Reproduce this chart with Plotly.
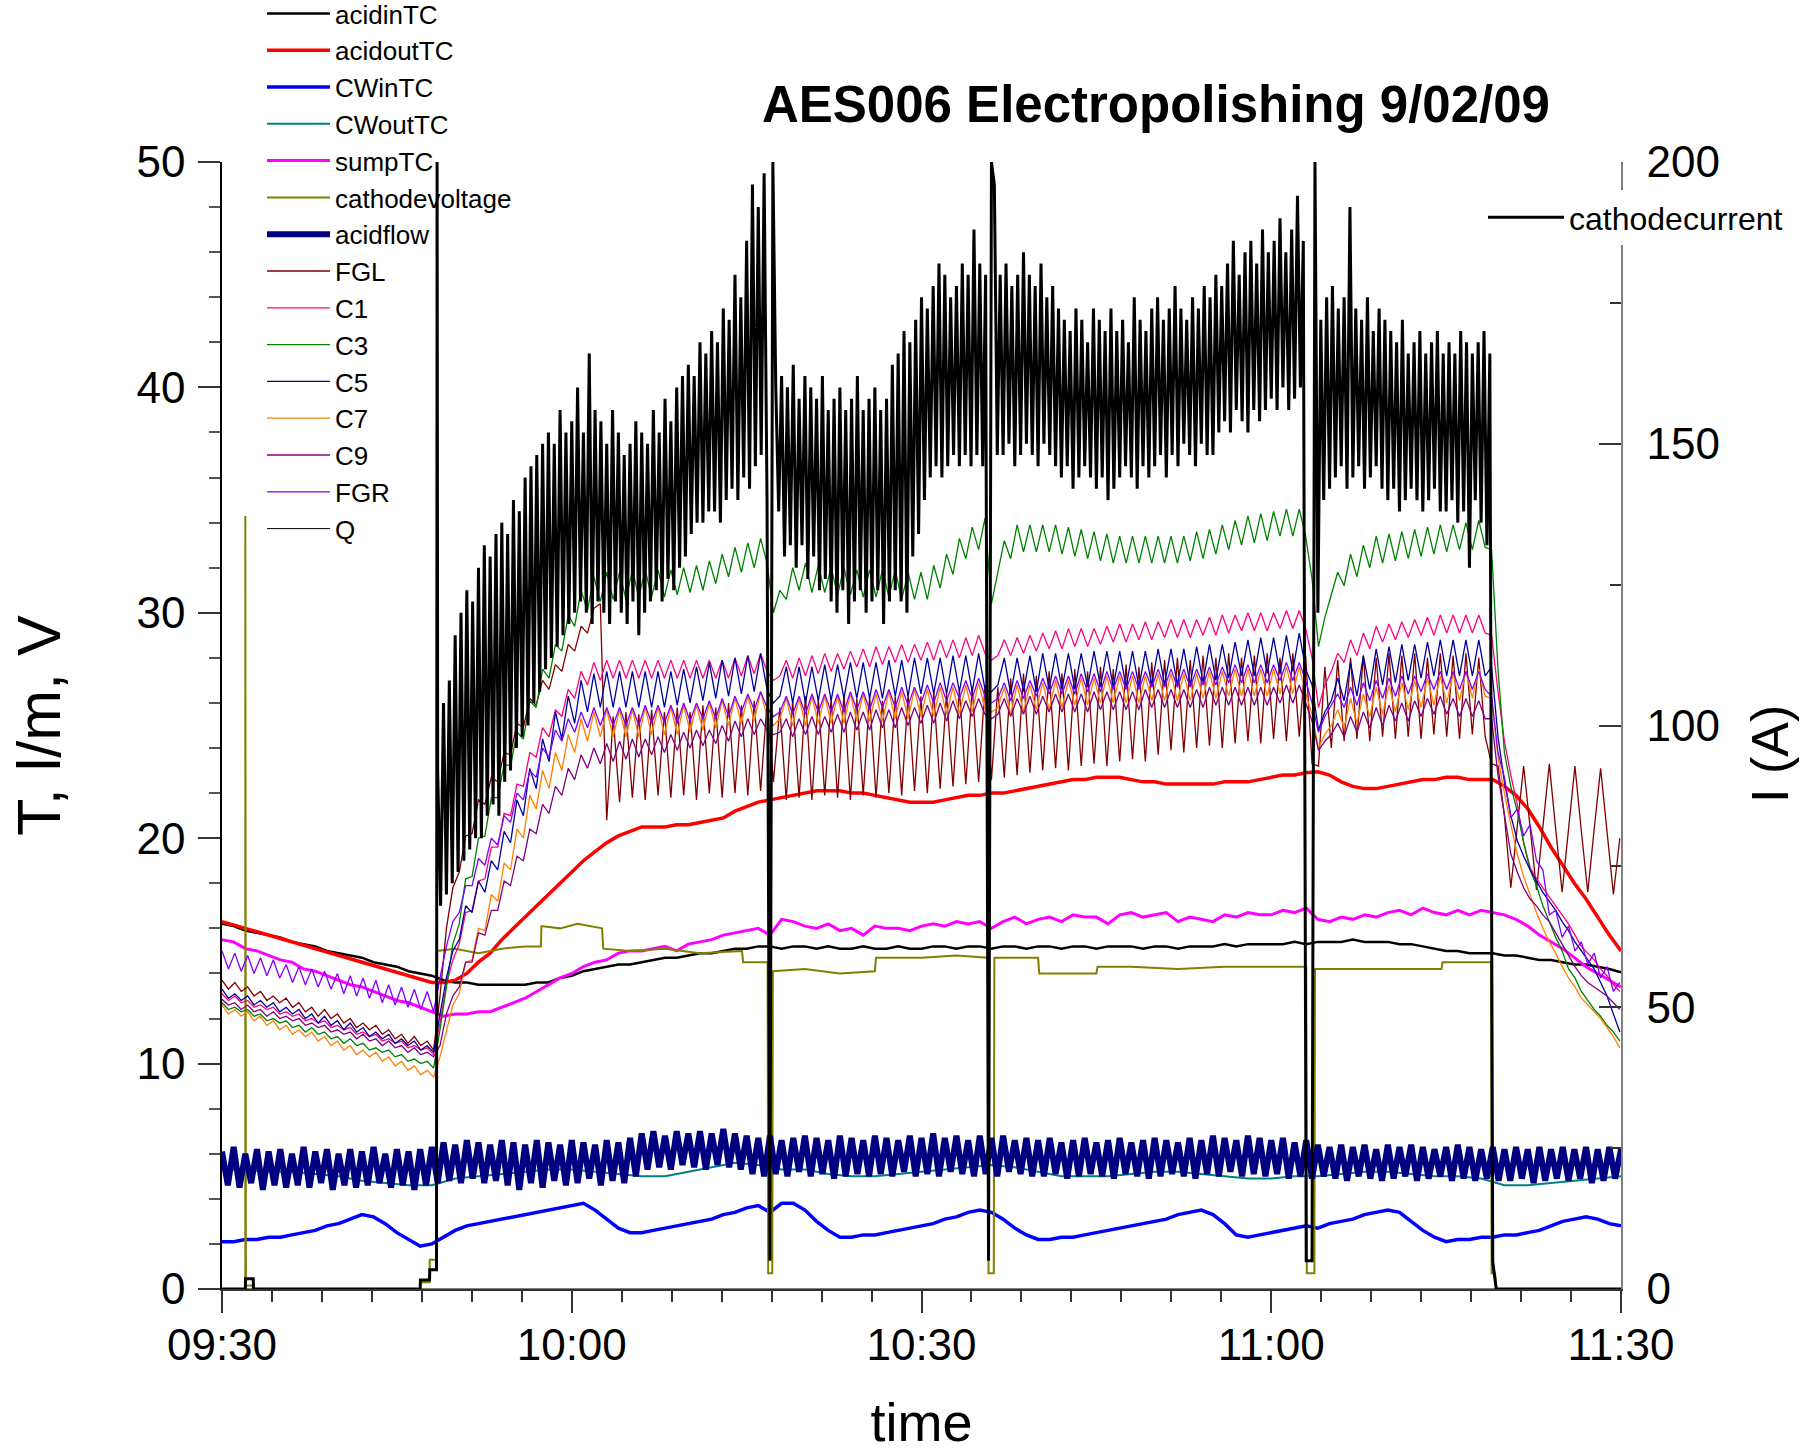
import numpy as np
import pandas as pd
import plotly.graph_objects as go

BASE = pd.Timestamp("2009-09-02 09:30:00")

# ---------------- time grids (minutes after 09:30) ----------------
t_osc = np.round(np.arange(219) * 0.55, 2)      # thermocouple channels C*, FGL, FGR
t_min = np.arange(121)                           # 1-minute channels
t_2min = np.arange(0, 121, 2)                    # CWoutTC
t_flow = np.arange(241) * 0.5                    # acidflow

# ---------------- left axis channels ----------------
acidinTC = [16.2, 16.1, 15.9, 15.8, 15.7, 15.6, 15.4, 15.3, 15.2, 15.0,
            14.9, 14.8, 14.7, 14.5, 14.4, 14.3, 14.1, 14.0, 13.9, 13.7,
            13.6, 13.6, 13.5, 13.5, 13.5, 13.5, 13.5, 13.6, 13.6, 13.8,
            13.9, 14.1, 14.2, 14.3, 14.4, 14.4, 14.5, 14.6, 14.7, 14.7,
            14.8, 14.9, 14.9, 15.0, 15.1, 15.1, 15.2, 15.2, 15.1, 15.2,
            15.2, 15.1, 15.2, 15.1, 15.1, 15.2, 15.1, 15.1, 15.2, 15.1,
            15.1, 15.2, 15.2, 15.1, 15.2, 15.2, 15.1, 15.2, 15.2, 15.1,
            15.2, 15.2, 15.1, 15.2, 15.2, 15.1, 15.2, 15.2, 15.2, 15.1,
            15.2, 15.2, 15.1, 15.2, 15.2, 15.2, 15.3, 15.2, 15.3, 15.3,
            15.3, 15.3, 15.4, 15.3, 15.4, 15.4, 15.4, 15.5, 15.4, 15.4,
            15.4, 15.3, 15.3, 15.2, 15.1, 15.0, 15.0, 14.9, 14.9, 14.9,
            14.8, 14.8, 14.7, 14.6, 14.6, 14.5, 14.4, 14.4, 14.3, 14.2,
            14.05]

acidoutTC = [16.3, 16.15, 16.0, 15.85, 15.7, 15.55, 15.4, 15.25, 15.1, 14.95,
             14.8, 14.65, 14.5, 14.35, 14.2, 14.05, 13.9, 13.75, 13.6, 13.6,
             13.7, 14.0, 14.5, 14.9, 15.5, 16.0, 16.5, 17.0, 17.5, 18.0,
             18.5, 19.0, 19.4, 19.8, 20.1, 20.3, 20.5, 20.5, 20.5, 20.6,
             20.6, 20.7, 20.8, 20.9, 21.2, 21.4, 21.6, 21.7, 21.8, 21.9,
             22.0, 22.1, 22.1, 22.1, 22.0, 22.0, 21.9, 21.8, 21.7, 21.6,
             21.6, 21.6, 21.7, 21.8, 21.9, 21.9, 22.0, 22.0, 22.1, 22.2,
             22.3, 22.4, 22.5, 22.6, 22.6, 22.7, 22.7, 22.7, 22.6, 22.5,
             22.5, 22.4, 22.4, 22.4, 22.4, 22.4, 22.5, 22.5, 22.5, 22.6,
             22.7, 22.8, 22.8, 22.9, 22.95, 22.8, 22.5, 22.3, 22.2, 22.2,
             22.3, 22.4, 22.5, 22.6, 22.6, 22.7, 22.7, 22.6, 22.6, 22.6,
             22.3, 21.9, 21.3, 20.5, 19.6, 18.8, 18.0, 17.3, 16.5, 15.7,
             15.0]

CWinTC = [2.1, 2.1, 2.2, 2.2, 2.3, 2.3, 2.4, 2.5, 2.6, 2.8,
          2.9, 3.1, 3.3, 3.2, 2.9, 2.5, 2.2, 1.9, 2.0, 2.3,
          2.6, 2.8, 2.9, 3.0, 3.1, 3.2, 3.3, 3.4, 3.5, 3.6,
          3.7, 3.8, 3.5, 3.1, 2.7, 2.5, 2.5, 2.6, 2.7, 2.8,
          2.9, 3.0, 3.1, 3.3, 3.4, 3.6, 3.7, 3.4, 3.8, 3.8,
          3.5, 3.0, 2.6, 2.3, 2.3, 2.4, 2.4, 2.5, 2.6, 2.7,
          2.8, 2.9, 3.1, 3.2, 3.4, 3.5, 3.4, 3.1, 2.7, 2.4,
          2.2, 2.2, 2.3, 2.3, 2.4, 2.5, 2.6, 2.7, 2.8, 2.9,
          3.0, 3.1, 3.3, 3.4, 3.5, 3.3, 2.9, 2.4, 2.3, 2.4,
          2.5, 2.6, 2.7, 2.8, 2.7, 2.9, 3.0, 3.1, 3.3, 3.4,
          3.5, 3.4, 3.0, 2.6, 2.3, 2.1, 2.2, 2.2, 2.3, 2.3,
          2.4, 2.4, 2.5, 2.6, 2.8, 3.0, 3.1, 3.2, 3.1, 2.9,
          2.8]

CWoutTC = [5.3, 5.3, 5.2, 5.2, 5.1, 5.0, 4.8, 4.7, 4.6, 4.6,
           4.9, 5.0, 5.1, 5.2, 5.3, 5.3, 5.2, 5.1, 5.0, 5.0,
           5.2, 5.4, 5.6, 5.5, 5.3, 5.3, 5.1, 5.0, 5.0, 5.1,
           5.2, 5.3, 5.4, 5.5, 5.4, 5.2, 5.0, 5.0, 5.0, 5.1,
           5.2, 5.2, 5.1, 5.0, 4.9, 4.9, 5.0, 5.0, 5.1, 5.2,
           5.2, 5.1, 5.0, 5.0, 4.9, 4.6, 4.6, 4.7, 4.8, 4.9,
           5.0]

sumpTC = [15.5, 15.4, 15.1, 15.0, 14.8, 14.6, 14.5, 14.2, 14.1, 13.9,
          13.7, 13.5, 13.4, 13.2, 13.0, 12.8, 12.7, 12.5, 12.3, 12.1,
          12.2, 12.2, 12.3, 12.3, 12.5, 12.7, 12.9, 13.2, 13.5, 13.8,
          14.0, 14.3, 14.5, 14.6, 14.9, 15.0, 15.0, 15.1, 15.2, 15.0,
          15.3, 15.4, 15.5, 15.7, 15.8, 15.9, 16.0, 15.7, 16.4, 16.3,
          16.1, 16.0, 16.2, 15.9, 16.0, 15.7, 16.1, 16.0, 16.0, 15.9,
          16.1, 16.2, 16.1, 16.3, 16.2, 16.3, 16.0, 16.3, 16.5, 16.2,
          16.4, 16.5, 16.3, 16.6, 16.5, 16.5, 16.2, 16.6, 16.7, 16.5,
          16.6, 16.7, 16.3, 16.5, 16.4, 16.3, 16.6, 16.5, 16.7, 16.6,
          16.6, 16.8, 16.7, 16.9, 16.4, 16.3, 16.5, 16.4, 16.6, 16.5,
          16.7, 16.8, 16.6, 16.9, 16.7, 16.6, 16.8, 16.6, 16.8, 16.7,
          16.6, 16.4, 16.1, 15.7, 15.4, 15.1, 14.7, 14.3, 14.0, 13.7,
          13.4]

volt_t = [0, 2.0, 2.0, 2.02, 2.05, 2.7, 2.72, 17.0, 17.02, 17.8, 17.82, 18.4, 18.45,
          20, 22, 24, 26, 27.35, 27.4, 29, 30.5, 32.6, 32.7, 35, 38, 41, 44.6, 44.7,
          46.8, 46.85, 47.2, 47.25, 50, 53, 56, 56.1, 60, 63, 65.7, 65.75,
          66.2, 66.25, 68, 70, 70.1, 73, 75, 75.1, 78, 82, 86, 90,
          93.0, 93.05, 93.7, 93.75, 96, 100, 104.6, 104.7,
          106.5, 108.85, 108.9, 109.2, 109.3, 120]
cathodevoltage = [0, 0, 34.3, 0.15, 0.15, 0.15, 0, 0, 0.3, 0.3, 1.3, 1.3, 15.0,
                  15.1, 14.9, 15.1, 15.2, 15.2, 16.1, 16.0, 16.2, 16.0, 15.1, 15.0, 15.1, 14.9, 15.0, 14.5,
                  14.5, 0.7, 0.7, 14.1, 14.2, 14.0, 14.1, 14.7, 14.7, 14.8, 14.7, 0.7,
                  0.7, 14.7, 14.7, 14.7, 14.0, 14.0, 14.0, 14.3, 14.3, 14.2, 14.3, 14.3,
                  14.3, 0.7, 0.7, 14.2, 14.2, 14.2, 14.2, 14.5,
                  14.5, 14.5, 0.7, 0.7, 0, 0]

acidflow = [6.1, 4.6, 6.3, 4.5, 6.0, 4.7, 6.2, 4.4, 6.1, 4.6,
            6.2, 4.5, 6.0, 4.6, 6.3, 4.5, 6.1, 4.7, 6.2, 4.4,
            6.0, 4.6, 6.2, 4.5, 6.1, 4.6, 6.3, 4.7, 6.0, 4.5,
            6.2, 4.6, 6.1, 4.4, 6.2, 4.6, 6.3, 4.7, 6.5, 4.8,
            6.4, 4.7, 6.6, 4.9, 6.5, 4.7, 6.4, 4.8, 6.6, 4.6,
            6.5, 4.4, 6.4, 4.7, 6.6, 4.5, 6.5, 4.8, 6.4, 4.6,
            6.6, 4.7, 6.5, 4.9, 6.4, 4.6, 6.6, 4.8, 6.5, 4.7,
            6.7, 5.0, 6.9, 5.3, 7.0, 5.4, 6.8, 5.3, 7.0, 5.5,
            6.9, 5.4, 7.0, 5.3, 6.9, 5.5, 7.1, 5.4, 6.9, 5.3,
            6.8, 5.1, 6.7, 5.0, 6.8, 5.1, 6.6, 5.0, 6.7, 5.2,
            6.8, 5.0, 6.7, 5.1, 6.6, 4.9, 6.8, 5.0, 6.7, 5.1,
            6.6, 5.0, 6.8, 5.1, 6.7, 5.0, 6.6, 5.2, 6.8, 5.0,
            6.7, 5.1, 6.9, 5.0, 6.7, 5.2, 6.8, 5.1, 6.6, 5.0,
            6.8, 5.1, 6.7, 5.0, 6.8, 5.2, 6.6, 5.1, 6.7, 5.0,
            6.6, 5.0, 6.7, 5.1, 6.5, 4.9, 6.6, 5.0, 6.7, 5.1,
            6.5, 5.0, 6.6, 4.9, 6.7, 5.1, 6.5, 5.0, 6.6, 4.9,
            6.7, 5.0, 6.6, 5.1, 6.5, 5.0, 6.7, 4.9, 6.6, 5.1,
            6.8, 5.0, 6.7, 5.2, 6.6, 5.0, 6.8, 5.1, 6.7, 5.0,
            6.6, 5.1, 6.7, 4.9, 6.5, 5.0, 6.6, 4.9, 6.4, 5.0,
            6.3, 4.9, 6.4, 4.8, 6.3, 5.0, 6.4, 4.9, 6.2, 4.8,
            6.4, 4.9, 6.3, 5.0, 6.4, 4.8, 6.3, 4.9, 6.2, 5.0,
            6.3, 4.8, 6.4, 4.9, 6.3, 4.8, 6.2, 4.9, 6.3, 4.8,
            6.2, 4.8, 6.3, 4.9, 6.2, 4.7, 6.3, 4.8, 6.2, 4.9,
            6.3, 4.8, 6.2, 4.9, 6.3, 4.7, 6.2, 4.8, 6.3, 4.9,
            6.2]

FGL = [13.7, 13.3, 13.6, 13.2, 13.4, 13.0, 13.2, 12.8, 13.0, 12.7,
       12.9, 12.5, 12.7, 12.3, 12.5, 12.1, 12.4, 12.0, 12.2, 11.8,
       12.0, 11.6, 11.8, 11.5, 11.7, 11.3, 11.5, 11.1, 11.3, 10.9,
       11.2, 10.8, 11.0, 10.6, 13.0, 16.0, 17.8, 18.5, 20.1, 20.2,
       21.7, 21.5, 22.7, 22.5, 23.8, 23.7, 25.1, 24.9, 26.2, 25.9,
       27.0, 26.6, 27.7, 27.4, 28.6, 28.3, 29.4, 29.1, 30.2, 30.4,
       20.8, 25.4, 21.6, 25.6, 21.8, 25.5, 21.7, 25.7, 21.9, 25.6,
       21.8, 25.8, 21.9, 25.6, 21.7, 25.9, 22.0, 25.8, 21.8, 26.0,
       22.0, 25.9, 21.9, 26.1, 22.1, 26.0, 22.5, 25.8, 21.7, 26.1,
       21.8, 26.3, 21.7, 26.2, 21.9, 26.2, 21.8, 26.4, 21.7, 26.2,
       21.9, 26.3, 21.8, 26.1, 22.0, 26.3, 21.9, 26.4, 22.1, 26.3,
       22.0, 26.5, 22.2, 26.4, 22.3, 26.6, 22.4, 26.7, 22.5, 26.8,
       22.6, 26.7, 22.7, 27.1, 22.8, 27.3, 22.9, 27.2, 23.0, 27.4,
       23.1, 27.3, 23.0, 27.5, 23.2, 27.4, 23.3, 27.6, 23.2, 27.5,
       23.4, 27.7, 23.5, 27.6, 23.4, 27.8, 23.7, 27.9, 23.9, 28.0,
       23.8, 27.9, 24.0, 28.1, 24.1, 28.0, 24.0, 28.2, 24.2, 28.0,
       24.3, 28.1, 24.2, 28.2, 24.4, 28.0, 24.3, 28.2, 24.5, 28.1,
       23.3, 23.2, 27.6, 24.0, 27.9, 24.3, 28.0, 24.4, 28.1, 24.3,
       28.0, 24.5, 28.2, 24.4, 28.1, 24.5, 28.2, 24.4, 28.0, 24.6,
       28.2, 24.5, 28.1, 24.4, 28.2, 24.6, 28.0, 24.5, 23.3, 23.2,
       21.0, 17.8, 20.5, 23.2, 20.5, 17.7, 20.5, 23.3, 20.4, 17.6,
       20.4, 23.2, 20.3, 17.6, 20.4, 23.1, 20.3, 17.5, 20.0]

C1 = [13.1, 12.8, 13.0, 12.7, 12.8, 12.5, 12.6, 12.4, 12.5, 12.2,
      12.3, 12.1, 12.2, 11.9, 12.0, 11.8, 11.9, 11.6, 11.7, 11.5,
      11.6, 11.3, 11.4, 11.2, 11.3, 11.0, 11.1, 10.9, 11.0, 10.7,
      10.8, 10.6, 10.7, 10.4, 11.8, 13.5, 14.6, 15.3, 16.7, 16.8,
      18.1, 18.2, 19.6, 19.6, 21.1, 21.0, 22.4, 22.3, 23.8, 23.6,
      24.9, 24.5, 25.7, 25.4, 26.6, 26.2, 27.4, 26.8, 27.8, 27.0,
      27.9, 27.1, 27.9, 27.1, 27.9, 27.1, 27.9, 27.1, 27.9, 27.1,
      27.9, 27.1, 27.9, 27.1, 27.9, 27.1, 27.9, 27.1, 27.9, 27.1,
      28.0, 27.2, 28.1, 27.3, 28.2, 27.4, 27.0, 27.2, 27.9, 27.1,
      28.0, 27.2, 28.1, 27.3, 28.2, 27.4, 28.2, 27.5, 28.3, 27.6,
      28.4, 27.6, 28.5, 27.7, 28.5, 27.8, 28.6, 27.8, 28.6, 27.9,
      28.7, 27.9, 28.8, 28.0, 28.8, 28.0, 28.9, 28.1, 29.0, 28.2,
      27.9, 28.1, 28.8, 28.1, 28.9, 28.2, 29.0, 28.3, 29.1, 28.4,
      29.2, 28.4, 29.3, 28.5, 29.3, 28.5, 29.3, 28.6, 29.4, 28.7,
      29.5, 28.7, 29.5, 28.8, 29.6, 28.8, 29.6, 28.9, 29.7, 28.9,
      29.7, 28.9, 29.7, 29.0, 29.8, 29.0, 29.9, 29.1, 29.9, 29.2,
      30.0, 29.2, 30.0, 29.2, 30.0, 29.3, 30.1, 29.3, 30.1, 29.3,
      28.0, 25.8, 26.8, 27.4, 28.2, 27.8, 28.8, 28.1, 29.1, 28.4,
      29.4, 28.7, 29.5, 28.8, 29.6, 28.9, 29.7, 29.0, 29.8, 29.0,
      29.9, 29.1, 29.9, 29.1, 29.9, 29.1, 29.9, 29.1, 29.0, 26.5,
      24.3, 22.8, 21.5, 19.8, 18.7, 18.2, 17.8, 17.4, 17.0, 16.6,
      16.2, 15.7, 15.2, 14.9, 14.6, 14.2, 13.9, 13.5, 13.2]

C3 = [12.7, 12.4, 12.5, 12.3, 12.4, 12.1, 12.2, 11.9, 12.0, 11.8,
      11.9, 11.6, 11.7, 11.4, 11.6, 11.3, 11.4, 11.1, 11.2, 10.9,
      11.1, 10.8, 10.9, 10.6, 10.7, 10.5, 10.6, 10.3, 10.4, 10.1,
      10.2, 10.0, 10.1, 9.8, 11.5, 13.5, 15.3, 16.2, 18.2, 18.3,
      20.0, 20.1, 21.8, 21.8, 23.3, 23.2, 24.7, 24.4, 26.1, 25.8,
      27.5, 27.1, 28.6, 28.3, 29.9, 29.4, 31.0, 30.1, 31.6, 30.5,
      31.8, 30.6, 31.8, 30.6, 31.9, 30.7, 31.9, 30.7, 31.9, 30.7,
      31.9, 30.8, 32.0, 30.9, 32.1, 31.0, 32.3, 31.3, 32.6, 31.6,
      32.9, 31.8, 33.1, 32.0, 33.3, 32.2, 30.0, 31.0, 30.6, 32.0,
      31.0, 32.2, 30.9, 32.1, 30.9, 32.0, 30.8, 32.0, 30.8, 31.9,
      30.7, 31.9, 30.7, 31.9, 30.7, 31.9, 30.6, 31.8, 30.6, 31.8,
      30.6, 32.1, 31.1, 32.6, 31.7, 33.3, 32.4, 33.8, 32.8, 34.2,
      30.4, 31.8, 33.2, 32.4, 33.9, 32.7, 33.9, 32.7, 33.9, 32.7,
      33.9, 32.6, 33.8, 32.5, 33.7, 32.4, 33.6, 32.3, 33.5, 32.2,
      33.4, 32.2, 33.4, 32.2, 33.4, 32.2, 33.4, 32.2, 33.4, 32.2,
      33.4, 32.3, 33.6, 32.4, 33.7, 32.6, 33.9, 32.8, 34.1, 33.0,
      34.3, 33.1, 34.4, 33.2, 34.5, 33.4, 34.6, 33.4, 34.6, 33.4,
      31.5, 28.5, 29.8, 30.8, 31.8, 31.2, 32.6, 31.6, 33.0, 32.0,
      33.4, 32.2, 33.5, 32.3, 33.6, 32.4, 33.7, 32.5, 33.8, 32.6,
      33.9, 32.7, 33.9, 32.8, 34.0, 32.8, 34.1, 32.9, 32.8, 27.5,
      23.8, 22.3, 21.2, 19.8, 18.6, 17.9, 17.0, 16.3, 15.6, 15.0,
      14.2, 13.8, 13.2, 12.8, 12.4, 12.1, 11.7, 11.4, 11.0]

C5 = [13.3, 12.9, 13.1, 12.8, 13.0, 12.6, 12.8, 12.5, 12.7, 12.3,
      12.5, 12.2, 12.4, 12.0, 12.2, 11.8, 12.1, 11.7, 11.9, 11.5,
      11.8, 11.4, 11.6, 11.2, 11.4, 11.1, 11.3, 10.9, 11.1, 10.8,
      11.0, 10.6, 10.8, 10.5, 12.2, 13.8, 15.0, 15.5, 17.0, 16.7,
      18.1, 17.6, 19.0, 18.6, 20.3, 19.8, 21.7, 21.0, 23.1, 22.2,
      24.4, 23.4, 25.6, 24.4, 26.3, 25.1, 27.0, 25.6, 27.3, 25.8,
      27.4, 25.8, 27.4, 25.8, 27.4, 25.8, 27.4, 25.8, 27.4, 25.8,
      27.4, 25.9, 27.5, 26.0, 27.6, 26.1, 27.8, 26.2, 27.9, 26.3,
      28.0, 26.4, 28.1, 26.5, 28.2, 26.6, 26.0, 26.3, 27.6, 26.0,
      27.6, 26.0, 27.6, 26.1, 27.7, 26.1, 27.7, 26.2, 27.8, 26.2,
      27.8, 26.2, 27.8, 26.2, 27.9, 26.3, 27.9, 26.3, 28.0, 26.4,
      28.0, 26.4, 28.0, 26.4, 28.1, 26.5, 28.1, 26.5, 28.2, 26.6,
      26.5, 26.8, 28.0, 26.4, 28.0, 26.5, 28.1, 26.5, 28.2, 26.6,
      28.2, 26.6, 28.2, 26.6, 28.2, 26.7, 28.3, 26.7, 28.3, 26.7,
      28.3, 26.7, 28.3, 26.7, 28.3, 26.8, 28.4, 26.8, 28.4, 26.8,
      28.4, 26.8, 28.5, 26.9, 28.6, 27.0, 28.6, 27.1, 28.7, 27.2,
      28.8, 27.2, 28.9, 27.3, 28.9, 27.3, 29.0, 27.4, 29.1, 27.5,
      26.8, 24.8, 25.6, 26.1, 27.1, 26.1, 27.8, 26.3, 28.1, 26.6,
      28.4, 26.8, 28.5, 26.9, 28.6, 27.0, 28.6, 27.1, 28.7, 27.2,
      28.8, 27.2, 28.8, 27.2, 28.8, 27.2, 28.8, 27.2, 27.6, 24.5,
      22.5, 21.0, 19.9, 19.2, 18.6, 18.1, 17.6, 17.2, 16.8, 16.3,
      15.9, 15.4, 15.0, 14.6, 14.2, 13.6, 13.0, 12.2, 11.4]

C7 = [12.6, 12.2, 12.4, 12.1, 12.3, 11.9, 12.1, 11.7, 11.9, 11.5,
      11.7, 11.3, 11.5, 11.2, 11.4, 11.0, 11.2, 10.8, 11.0, 10.6,
      10.8, 10.4, 10.6, 10.3, 10.5, 10.1, 10.3, 9.9, 10.1, 9.7,
      9.9, 9.5, 9.7, 9.4, 10.3, 11.5, 12.6, 13.1, 14.5, 14.6,
      16.0, 15.9, 17.5, 17.2, 18.9, 18.6, 20.4, 20.0, 21.9, 21.3,
      23.0, 22.2, 23.8, 23.0, 24.6, 23.8, 25.3, 24.3, 25.6, 24.5,
      25.7, 24.5, 25.7, 24.5, 25.7, 24.5, 25.8, 24.6, 25.8, 24.6,
      25.8, 24.6, 25.9, 24.7, 25.9, 24.8, 26.0, 24.9, 26.1, 25.0,
      26.2, 25.1, 26.3, 25.2, 26.5, 25.4, 25.0, 25.3, 26.2, 25.0,
      26.2, 25.0, 26.3, 25.1, 26.3, 25.1, 26.3, 25.1, 26.4, 25.2,
      26.4, 25.2, 26.4, 25.2, 26.5, 25.3, 26.5, 25.3, 26.6, 25.4,
      26.6, 25.4, 26.7, 25.5, 26.7, 25.5, 26.8, 25.6, 26.9, 25.7,
      25.6, 25.8, 26.7, 25.5, 26.8, 25.6, 26.8, 25.7, 26.9, 25.7,
      27.0, 25.8, 27.0, 25.9, 27.1, 25.9, 27.1, 26.0, 27.2, 26.0,
      27.2, 26.0, 27.2, 26.0, 27.2, 26.1, 27.3, 26.1, 27.3, 26.1,
      27.3, 26.1, 27.3, 26.2, 27.4, 26.2, 27.4, 26.3, 27.5, 26.3,
      27.5, 26.3, 27.5, 26.3, 27.5, 26.4, 27.6, 26.4, 27.6, 26.4,
      25.5, 24.0, 24.6, 25.0, 25.7, 24.9, 26.2, 25.1, 26.4, 25.4,
      26.7, 25.5, 26.8, 25.6, 26.9, 25.7, 27.0, 25.8, 27.1, 25.9,
      27.2, 26.0, 27.3, 26.1, 27.4, 26.2, 27.5, 26.3, 26.2, 23.6,
      22.0, 20.6, 19.3, 18.3, 17.5, 16.7, 16.0, 15.4, 14.9, 14.3,
      13.8, 13.4, 12.9, 12.6, 12.3, 12.0, 11.6, 11.2, 10.7]

C9 = [12.85, 12.6, 12.7, 12.4, 12.6, 12.3, 12.4, 12.1, 12.3, 12.0,
      12.1, 11.9, 12.0, 11.7, 11.8, 11.6, 11.7, 11.4, 11.5, 11.3,
      11.4, 11.1, 11.3, 11.0, 11.1, 10.8, 11.0, 10.7, 10.8, 10.5,
      10.7, 10.4, 10.5, 10.3, 10.8, 12.2, 13.0, 13.4, 14.5, 14.5,
      15.8, 15.7, 16.8, 16.8, 18.1, 17.9, 19.2, 19.0, 20.4, 20.2,
      21.5, 21.1, 22.3, 21.9, 23.1, 22.6, 23.7, 23.1, 24.0, 23.3,
      24.2, 23.4, 24.3, 23.5, 24.4, 23.6, 24.4, 23.7, 24.5, 23.8,
      24.6, 23.9, 24.7, 24.0, 24.8, 24.1, 24.8, 24.2, 25.0, 24.3,
      25.2, 24.5, 25.3, 24.6, 25.3, 24.8, 24.6, 24.7, 25.3, 24.5,
      25.3, 24.6, 25.4, 24.6, 25.4, 24.7, 25.5, 24.7, 25.6, 24.8,
      25.6, 24.8, 25.7, 24.9, 25.7, 24.9, 25.8, 25.0, 25.8, 25.1,
      25.9, 25.1, 26.0, 25.2, 26.1, 25.3, 26.1, 25.4, 26.2, 25.5,
      25.3, 25.5, 26.2, 25.4, 26.2, 25.5, 26.3, 25.5, 26.3, 25.6,
      26.4, 25.6, 26.4, 25.6, 26.4, 25.6, 26.5, 25.7, 26.5, 25.7,
      26.5, 25.7, 26.5, 25.7, 26.6, 25.8, 26.6, 25.8, 26.6, 25.8,
      26.6, 25.8, 26.6, 25.8, 26.7, 25.9, 26.7, 25.9, 26.7, 25.9,
      26.7, 25.9, 26.7, 25.9, 26.7, 26.0, 26.8, 26.0, 26.8, 26.0,
      25.2, 23.9, 24.3, 24.6, 25.1, 24.5, 25.4, 24.7, 25.6, 24.9,
      25.8, 25.0, 25.9, 25.2, 26.0, 25.2, 26.1, 25.4, 26.2, 25.5,
      26.3, 25.5, 26.2, 25.4, 26.2, 25.4, 26.1, 25.3, 25.3, 22.8,
      21.0, 19.3, 18.5, 17.8, 17.3, 17.0, 16.6, 16.3, 15.8, 15.3,
      14.8, 14.3, 13.9, 13.6, 13.4, 13.2, 13.0, 12.7, 12.4]

FGR = [15.0, 14.2, 14.9, 14.1, 14.8, 14.0, 14.7, 13.9, 14.6, 13.8,
       14.4, 13.6, 14.3, 13.5, 14.2, 13.4, 14.1, 13.3, 14.0, 13.1,
       13.9, 13.0, 13.8, 12.9, 13.7, 12.7, 13.5, 12.6, 13.4, 12.5,
       13.3, 12.4, 13.2, 12.3, 13.8, 15.2, 16.3, 16.7, 17.9, 17.9,
       19.1, 18.8, 20.0, 19.7, 21.0, 20.7, 22.0, 21.7, 23.0, 22.7,
       24.0, 23.6, 24.8, 24.3, 25.3, 24.7, 25.6, 24.9, 25.8, 25.0,
       25.8, 25.0, 25.8, 25.0, 25.8, 25.0, 25.9, 25.1, 25.9, 25.1,
       25.9, 25.1, 26.0, 25.2, 26.0, 25.3, 26.1, 25.3, 26.2, 25.4,
       26.3, 25.6, 26.4, 25.7, 26.5, 25.8, 25.4, 25.6, 26.3, 25.5,
       26.3, 25.5, 26.4, 25.6, 26.4, 25.6, 26.4, 25.6, 26.5, 25.7,
       26.5, 25.7, 26.6, 25.8, 26.6, 25.8, 26.7, 25.9, 26.7, 26.0,
       26.8, 26.0, 26.9, 26.1, 26.9, 26.2, 27.0, 26.2, 27.1, 26.3,
       26.0, 26.2, 26.9, 26.1, 27.0, 26.2, 27.0, 26.3, 27.1, 26.4,
       27.2, 26.4, 27.2, 26.4, 27.3, 26.5, 27.3, 26.5, 27.4, 26.6,
       27.4, 26.6, 27.4, 26.6, 27.4, 26.7, 27.5, 26.7, 27.5, 26.7,
       27.5, 26.7, 27.5, 26.8, 27.6, 26.8, 27.6, 26.9, 27.7, 26.9,
       27.7, 26.9, 27.7, 26.9, 27.7, 27.0, 27.8, 27.0, 27.8, 27.0,
       26.0, 24.7, 25.4, 25.9, 26.4, 25.8, 26.7, 25.9, 26.9, 26.1,
       27.0, 26.2, 27.1, 26.3, 27.2, 26.4, 27.2, 26.5, 27.3, 26.6,
       27.4, 26.6, 27.4, 26.6, 27.4, 26.6, 27.4, 26.6, 26.3, 23.8,
       22.7, 20.9, 21.3, 20.1, 20.6, 19.0, 18.6, 16.6, 16.8, 15.6,
       16.1, 15.0, 15.4, 14.4, 14.9, 13.8, 14.3, 13.2, 13.6]

q_t = [0, 120]
Q = [0, 0]

# ---------------- right axis: cathode current (A) ----------------
cur_pre_t = [0, 2.0, 2.02, 2.68, 2.7, 17.0, 17.02, 17.8, 17.82, 18.4, 18.45]
cur_pre = [0, 0, 1.8, 1.8, 0, 0, 1.6, 1.6, 3.4, 3.4, 200]
cur_run_start = 18.5      # minutes, 0.25-min sampling
cur_run = [
    92, 68,
    104, 70, 108, 72,   116, 74, 120, 76,   124, 78, 122, 80,   128, 80, 132, 84,
    130, 86, 134, 84,   136, 90, 134, 92,   140, 96, 138, 98,   144, 100, 146, 104,
    148, 106, 150, 110, 152, 112, 150, 114, 156, 116, 152, 118, 154, 120, 160, 122,
    152, 120, 166, 118, 156, 122, 154, 120, 150, 118, 156, 122, 152, 120, 148, 118,
    150, 122, 154, 116, 152, 120, 150, 122, 156, 124, 152, 122, 158, 126, 154, 124,
    160, 128, 162, 130, 164, 134, 162, 136, 168, 136, 166, 138, 170, 138, 168, 136,
    174, 140, 172, 142, 180, 140, 176, 144, 186, 142, 196, 146, 192, 148, 198, 140,
    5, 200, 160, 138,
    162, 130, 160, 132, 164, 128, 158, 132, 162, 126, 160, 130, 158, 124, 162, 126,
    156, 122, 158, 120, 160, 124, 156, 118, 158, 122, 162, 124, 156, 120, 158, 122,
    160, 124, 156, 118, 158, 122, 164, 124, 166, 122, 170, 120, 168, 130, 172, 134,
    176, 140, 174, 144, 178, 146, 182, 144, 180, 146, 176, 148, 178, 146, 182, 148,
    180, 146, 188, 148,
    182, 146, 180, 5,
    200, 196, 148, 180,
    148, 182, 150, 178, 146, 180, 148, 184, 150, 180, 148, 178, 146, 182, 150, 176,
    148, 178, 146, 174, 144, 172, 146, 170, 142, 174, 144, 172, 146, 168, 144, 174,
    142, 172, 144, 170, 140, 174, 142, 170, 144, 172, 146, 168, 144, 176, 142, 172,
    146, 170, 144, 174, 146, 176, 148, 172, 144, 174, 148, 178, 146, 174, 150, 172,
    148, 176, 146, 174, 150, 178, 148, 176, 148, 180, 152, 178, 154, 182, 152, 186,
    156, 180, 154, 184, 152, 186, 156, 182, 154, 188, 156, 184, 158, 186, 156, 190,
    160, 184, 156, 188,
    158, 194, 160, 186,
    5, 5, 5, 200,
    120, 172, 140, 176, 142, 178, 144, 174, 146, 176, 142, 192, 144, 174, 146, 172,
    142, 176, 144, 170, 146, 174, 142, 172, 140, 170, 142, 168, 138, 172, 140, 166,
    142, 168, 140, 170, 138, 166, 140, 168, 142, 170, 138, 166, 138, 168, 140, 166,
    136, 170, 138, 168, 128, 166, 140, 168,
    136, 170, 132, 166,
]
cur_post_t = [109.0, 109.3, 120]
cur_post = [4.8, 0, 0]


def tx(minutes):
    return BASE + pd.to_timedelta(np.asarray(minutes, dtype=float), unit="min")


cur_t = (list(cur_pre_t)
         + list(cur_run_start + 0.25 * np.arange(len(cur_run)))
         + list(cur_post_t))
cur_v = list(cur_pre) + list(cur_run) + list(cur_post)

FONT = "Liberation Sans, Arial, sans-serif"

fig = go.Figure()

left_series = [
    ("acidinTC", t_min, acidinTC, "#000000", 2.5),
    ("acidoutTC", t_min, acidoutTC, "#FF0000", 3.5),
    ("CWinTC", t_min, CWinTC, "#0000FF", 3.5),
    ("CWoutTC", t_2min, CWoutTC, "#008080", 2.0),
    ("sumpTC", t_min, sumpTC, "#FF00FF", 3.0),
    ("cathodevoltage", volt_t, cathodevoltage, "#808000", 2.0),
    ("acidflow", t_flow, acidflow, "#000080", 6.0),
    ("FGL", t_osc, FGL, "#800000", 1.3),
    ("C1", t_osc, C1, "#FF0080", 1.3),
    ("C3", t_osc, C3, "#008000", 1.3),
    ("C5", t_osc, C5, "#0000A0", 1.3),
    ("C7", t_osc, C7, "#FF8000", 1.3),
    ("C9", t_osc, C9, "#800080", 1.3),
    ("FGR", t_osc, FGR, "#8000FF", 1.3),
    ("Q", q_t, Q, "#000000", 1.0),
]

for name, tt, vv, col, w in left_series:
    n = min(len(tt), len(vv))
    fig.add_trace(go.Scatter(
        x=tx(tt[:n]), y=vv[:n], name=name, mode="lines",
        line=dict(color=col, width=w), yaxis="y", legend="legend"))

fig.add_trace(go.Scatter(
    x=tx(cur_t), y=cur_v, name="cathodecurrent", mode="lines",
    line=dict(color="#000000", width=3.0), yaxis="y2", legend="legend2"))

PW = 1399.0
PH = 1127.0

fig.update_layout(
    width=1814, height=1452,
    margin=dict(l=222, r=193, t=162, b=163, autoexpand=False),
    paper_bgcolor="white", plot_bgcolor="white",
    font=dict(family=FONT, color="black"),
    title=dict(text="<b>AES006 Electropolishing 9/02/09</b>",
               font=dict(family=FONT, size=51, color="black"),
               x=1156 / 1814, xanchor="center", xref="container",
               y=1 - 104 / 1452, yanchor="middle", yref="container"),
    showlegend=True,
    legend=dict(x=(262 - 222) / PW, xanchor="left",
                y=(1289 + 10) / PH, yanchor="top",
                font=dict(family=FONT, size=26, color="black"),
                bgcolor="rgba(0,0,0,0)", borderwidth=0,
                itemwidth=63, tracegroupgap=0, traceorder="normal"),
    legend2=dict(x=(1483 - 222) / PW, xanchor="left",
                 y=(1289 - 190) / PH, yanchor="top",
                 font=dict(family=FONT, size=32, color="black"),
                 bgcolor="white", borderwidth=0, itemwidth=76),
    xaxis=dict(
        type="date",
        range=[BASE, BASE + pd.Timedelta(minutes=120)],
        tickformat="%H:%M", dtick=1800000, tick0=BASE,
        ticks="outside", ticklen=22, tickwidth=1.5, tickcolor="#333333",
        showline=True, linecolor="#333333", linewidth=1.5,
        showgrid=False, zeroline=False,
        tickfont=dict(family=FONT, size=44, color="black"),
        ticklabelstandoff=-6,
        minor=dict(dtick=1800000 / 7, tick0=BASE, ticks="outside",
                   ticklen=11, tickwidth=1.5, tickcolor="#333333", showgrid=False),
        title=dict(text="time", font=dict(family=FONT, size=54, color="black"),
                   standoff=44),
    ),
    yaxis=dict(
        range=[0, 50], dtick=10, tick0=0,
        ticks="outside", ticklen=22, tickwidth=1.5, tickcolor="#333333",
        showline=True, linecolor="#000000", linewidth=1.5,
        showgrid=False, zeroline=False,
        tickfont=dict(family=FONT, size=44, color="black"),
        ticklabelstandoff=4,
        minor=dict(dtick=2, ticks="outside", ticklen=11, tickwidth=1.5,
                   tickcolor="#555555", showgrid=False),
        title=dict(text="T, l/m, V", font=dict(family=FONT, size=61, color="black"),
                   standoff=56),
    ),
    yaxis2=dict(
        overlaying="y", side="right", anchor="x",
        range=[0, 200], dtick=50, tick0=0,
        ticks="inside", ticklen=22, tickwidth=1.5, tickcolor="#333333",
        showline=True, linecolor="#808080", linewidth=1.5,
        showgrid=False, zeroline=False,
        tickfont=dict(family=FONT, size=44, color="black"),
        ticklabelstandoff=15,
        minor=dict(dtick=25, ticks="inside", ticklen=11, tickwidth=1.5,
                   tickcolor="#333333", showgrid=False),
    ),
    annotations=[dict(
        text="I (A)", textangle=-90, showarrow=False,
        xref="paper", yref="paper",
        x=(1770 - 222) / PW, y=(1289 - 754) / PH,
        xanchor="center", yanchor="middle",
        font=dict(family=FONT, size=52, color="black"))],
)

fig.write_html("out.html")
